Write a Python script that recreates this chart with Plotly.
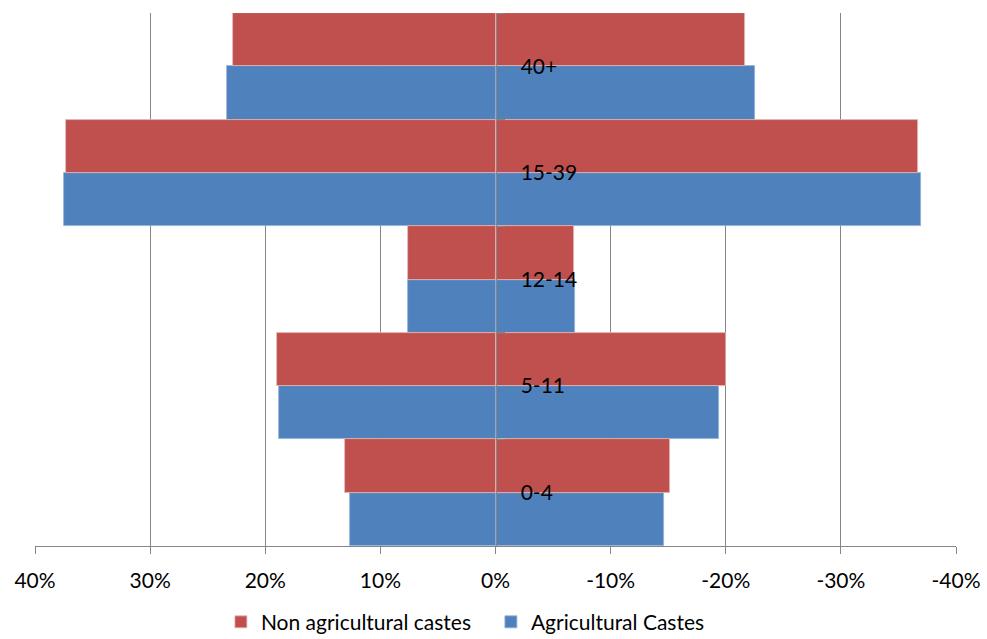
import plotly.graph_objects as go

# Age groups, bottom to top
age_groups = ["0-4", "5-11", "12-14", "15-39", "40+"]

# Share of population (%) on the left (positive) and right (negative) sides
nonag_left = [13.1, 19.0, 7.6, 37.3, 22.8]
nonag_right = [15.2, 20.0, 6.8, 36.7, 21.7]
ag_left = [12.6, 18.8, 7.6, 37.5, 23.3]
ag_right = [14.6, 19.4, 6.9, 37.0, 22.5]

tick_vals = [40, 30, 20, 10, 0, -10, -20, -30, -40]
tick_text = ["40%", "30%", "20%", "10%", "0%", "-10%", "-20%", "-30%", "-40%"]

RED = "#C0504D"
BLUE = "#4F81BD"
GRID = "#868686"
FONT = "Lato, Open Sans, sans-serif"
FS = 21

series = [
    ("Agricultural Castes", BLUE, "#95B3D7", ag_left, ag_right, "ag", 2),
    ("Non agricultural castes", RED, "#E6B9B8", nonag_left, nonag_right, "nonag", 1),
]

fig = go.Figure()
for name, color, edge, left, right, grp, rank in series:
    fig.add_trace(go.Bar(
        y=age_groups, x=left, orientation="h", name=name,
        marker=dict(color=color, line=dict(color=edge, width=0.8)),
        offsetgroup=grp, legendgroup=grp, legendrank=rank, showlegend=True,
    ))
    fig.add_trace(go.Bar(
        y=age_groups, x=[-v for v in right], orientation="h", name=name,
        marker=dict(color=color, line=dict(color=edge, width=0.8)),
        offsetgroup=grp, legendgroup=grp, legendrank=rank, showlegend=False,
    ))

fig.update_layout(
    width=987, height=639,
    margin=dict(l=35, r=31, t=13, b=93, autoexpand=False),
    paper_bgcolor="white", plot_bgcolor="white",
    barmode="relative", bargap=0, bargroupgap=0,
    font=dict(family=FONT, size=FS, color="black"),
    showlegend=True,
    legend=dict(
        orientation="h", x=0.495, xanchor="center", y=-0.143, yanchor="middle",
        entrywidth=225,
        font=dict(family=FONT, size=FS, color="black"),
        itemclick=False, itemdoubleclick=False,
    ),
    xaxis=dict(
        range=[40, -40], tickvals=tick_vals, ticktext=tick_text,
        showgrid=True, gridcolor=GRID, gridwidth=1, zeroline=False,
        showline=True, linecolor=GRID, linewidth=1,
        ticks="outside", ticklen=7, tickcolor=GRID,
        ticklabelstandoff=9, automargin=False,
        tickfont=dict(family=FONT, size=FS, color="black"),
    ),
    yaxis=dict(
        type="category", categoryorder="array", categoryarray=age_groups,
        anchor="free", position=0.5, side="right",
        showgrid=False, zeroline=False,
        showline=True, linecolor=GRID, linewidth=1,
        ticks="outside", ticklen=8, tickcolor=GRID, tickson="boundaries",
        ticklabelstandoff=20, automargin=False,
        tickfont=dict(family=FONT, size=FS, color="black"),
    ),
)

fig.write_html("out.html")
